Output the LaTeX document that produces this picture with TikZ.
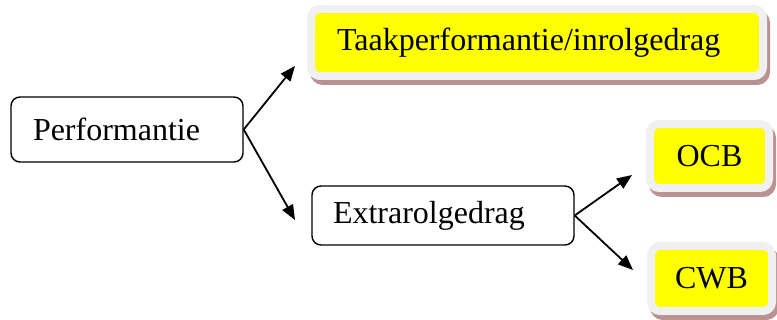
\documentclass[tikz,border=0pt]{standalone}
\usepackage{fontspec}
\setmainfont{Liberation Serif}
\usetikzlibrary{arrows.meta}
\definecolor{framegrey}{RGB}{240,240,240}
\definecolor{shadowbrown}{RGB}{186,146,146}
\definecolor{boxyellow}{RGB}{255,255,0}
\tikzset{
  plainbox/.style={draw=black, line width=1.4pt, rounded corners=9pt,
    inner xsep=0pt, inner ysep=0pt, align=left,
    font=\fontsize{32}{38}\selectfont},
  markedbox/.style={fill=boxyellow, draw=framegrey, line width=8pt,
    rounded corners=9pt, inner sep=0pt, align=left,
    font=\fontsize{32}{38}\selectfont,
    preaction={draw=shadowbrown, fill=shadowbrown, line width=8pt,
      transform canvas={shift={(3pt,-5pt)}}}},
  link/.style={line width=1.8pt, -{Triangle[length=15pt,width=12pt]}}
}
\begin{document}
\begin{tikzpicture}[x=1pt,y=1pt]
  \useasboundingbox (0,0) rectangle (777,320);
  % left-hand source box
  \node[plainbox, minimum width=232pt, minimum height=65pt,
        text width=188pt] (perf) at (127,190.5) {Performantie};
  % second-level box
  \node[plainbox, minimum width=262pt, minimum height=59pt,
        text width=220pt] (extra) at (443,104.5) {Extrarolgedrag};
  % highlighted boxes
  \node[markedbox, minimum width=452pt, minimum height=67pt,
        text width=400pt] (taak) at (537,277.5) {Taakperformantie/inrolgedrag};
  \node[markedbox, minimum width=119pt, minimum height=64pt,
        align=center] (ocb) at (709.5,164) {OCB};
  \node[markedbox, minimum width=121pt, minimum height=65pt,
        align=center] (cwb) at (711.5,41.5) {CWB};
  % arrow tips stop short of the target boxes
  \coordinate (tipTaak) at (295,254);
  \coordinate (tipExtra) at (295,100);
  \coordinate (tipOcb) at (632,145);
  \coordinate (tipCwb) at (633,50);
  \draw[link] (perf.east) -- (tipTaak);
  \draw[link] (perf.east) -- (tipExtra);
  \draw[link] (extra.east) -- (tipOcb);
  \draw[link] (extra.east) -- (tipCwb);
\end{tikzpicture}
\end{document}
